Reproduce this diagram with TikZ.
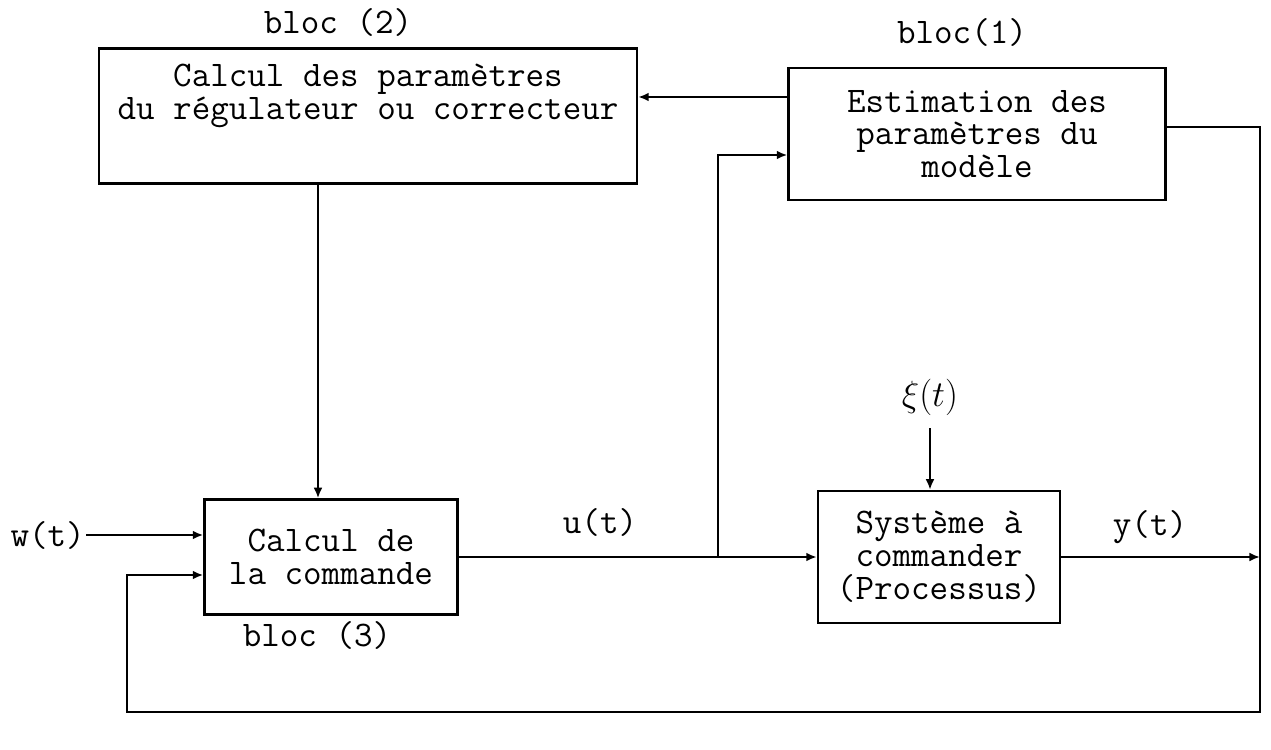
\documentclass[tikz,border=0pt]{standalone}
\usepackage{fontspec}
\usetikzlibrary{arrows.meta,positioning,calc}
\tikzset{
  txt/.style={align=center, inner sep=0pt, font=\ttfamily\fontsize{20.5}{18.7}\selectfont},
  blk/.style={txt, draw, line width=1.4pt},
  arr/.style={-{Latex[length=6pt,width=5pt]}},
}
\begin{document}
\begin{tikzpicture}[x=0.02cm,y=-0.02cm,line width=1.4pt]
\useasboundingbox (0,0) rectangle (1271,750);
% blocks
\node[blk, minimum width=10.76cm, minimum height=2.7cm] (reg) at (368,116) {};
\node[txt, anchor=north] (regtxt) at ($(reg.north)+(0,16)$) {Calcul des paramètres\\du régulateur ou correcteur};
\node[blk, minimum width=7.54cm, minimum height=2.64cm] (est) at (977,134) {Estimation des\\paramètres du\\modèle};
\node[blk, minimum width=5.06cm, minimum height=2.3cm] (cmd) at (331,557) {Calcul de\\la commande};
\node[blk, minimum width=4.84cm, minimum height=2.64cm] (sys) at (939,557) {Système à\\commander\\(Processus)};
% labels
\node[txt] (l2) at (338,22) {bloc (2)};
\node[txt] (l1) at (962,32) {bloc(1)};
\node[txt] (l3) at (317,635) {bloc (3)};
\node[txt, anchor=east] (w) at (86,535) {w(t)};
\node[txt] (u) at (600,522) {u(t)};
\node[txt] (y) at (1150,527) {y(t)};
\node[txt] (xi) at (930,397) {$\xi(t)$};
% corners of the loop
\coordinate (br) at (718,557);
\coordinate (rt) at (1260,127);
\coordinate (rb) at (1260,712);
\coordinate (lb) at (127,712);
% connectors
\draw[arr] (cmd.east) -- (sys.west);
\draw[arr] (br) |- (est.west |- 0,155);
\draw[arr] (est.west |- 0,97) -- (reg.east |- 0,97);
\draw[arr] (reg.south -| 318,0) -- (cmd.north -| 318,0);
\draw[arr] (w) -- (cmd.west |- w);
\draw[arr] (sys.east) -- (sys.east -| rt);
\draw[arr] ($(xi.south)+(0,12)$) -- (xi.south |- sys.north);
\draw[arr] (est.east |- rt) -- (rt) -- (rb) -- (lb) |- (cmd.west |- 0,575);
\end{tikzpicture}
\end{document}
